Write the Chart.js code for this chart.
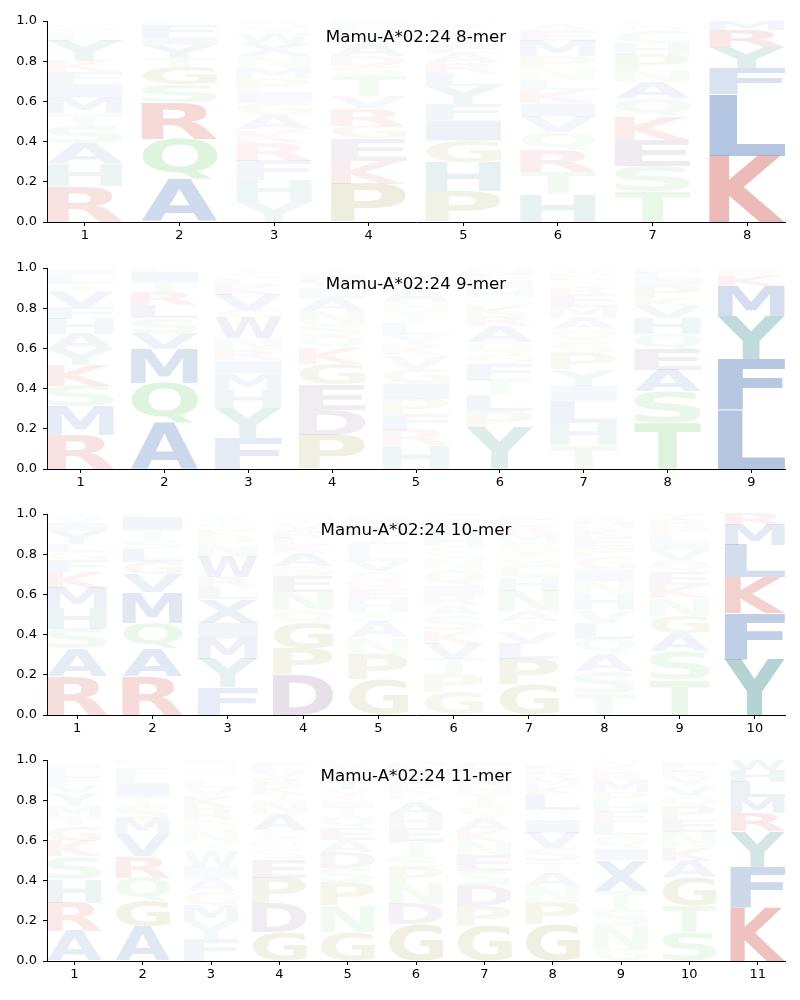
<!DOCTYPE html>
<html><head><meta charset="utf-8">
<script src="https://cdn.jsdelivr.net/npm/chart.js@4.4.1/dist/chart.umd.min.js"></script>
<style>
html,body{margin:0;padding:0;background:#fff;width:800px;height:1000px;overflow:hidden}
.p{position:absolute;left:0;width:800px;height:246px}
</style></head><body>
<div class="p" style="top:0px"><canvas id="c0"></canvas></div>
<div class="p" style="top:247px"><canvas id="c1"></canvas></div>
<div class="p" style="top:493px"><canvas id="c2"></canvas></div>
<div class="p" style="top:739px"><canvas id="c3"></canvas></div>
<script>
const titles = ["Mamu-A*02:24 8-mer", "Mamu-A*02:24 9-mer", "Mamu-A*02:24 10-mer", "Mamu-A*02:24 11-mer"];
const yTickValues = [0, 0.2, 0.4, 0.6, 0.8, 1.0];

// letters stacked bottom -> top, one string per position
const mer8Letters = ["RHASTMIFKYLVGQ","AQRSGTYIFL","YHFRKAGIPMNXWVS","PKEGRVTSDANQLI","PHGIFYLRAEKSTV","HTRQVIKLNPMEAS","TSEKQANPHCDG","KLFYRM"];
const mer8Heights = [
  [.18,.11,.10,.09,.06,.08,.065,.06,.055,.10,.04,.02,.02,.015],
  [.215,.2,.18,.09,.085,.045,.065,.04,.06,.02],
  [.1,.11,.095,.09,.065,.07,.06,.06,.065,.05,.06,.065,.05,.03,.03],
  [.19,.115,.11,.065,.085,.06,.1,.05,.05,.065,.03,.03,.025,.025],
  [.155,.14,.11,.1,.08,.09,.065,.05,.05,.04,.03,.03,.03,.02],
  [.14,.11,.11,.09,.075,.065,.065,.05,.06,.06,.075,.05,.03,.02],
  [.155,.125,.13,.115,.09,.08,.06,.075,.06,.06,.025,.025],
  [.33,.305,.13,.105,.085,.045]
];
const mer9Letters = ["RMSKYAHFVTLI","AQMVSLRTIF","FYHMIRNWGVKLST","PDEGKQSNALVIRT","HRFPIGVKYLTNASEQ","YPLTFGQARKSHMEN","THLIYPSQAMERNKV","TSAEQHVKPILM","LFYMKRI"];
const mer9Heights = [
  [.17,.14,.105,.1,.08,.075,.075,.06,.08,.04,.04,.03],
  [.23,.2,.165,.08,.075,.065,.065,.05,.05,.02],
  [.155,.15,.09,.08,.065,.05,.06,.1,.04,.075,.05,.03,.03,.025],
  [.17,.125,.125,.1,.08,.06,.06,.065,.065,.05,.035,.03,.02,.015],
  [.12,.075,.08,.075,.075,.075,.065,.05,.05,.06,.06,.05,.07,.04,.03,.025],
  [.21,.08,.08,.075,.075,.05,.06,.08,.05,.05,.04,.04,.04,.035,.035],
  [.12,.11,.11,.075,.08,.075,.06,.065,.06,.05,.065,.04,.03,.03,.03],
  [.23,.155,.11,.1,.075,.08,.06,.04,.065,.03,.03,.025],
  [.295,.25,.215,.15,.05,.025,.015]
];
const mer10Letters = ["RASHMKFGLYIVT","RAQMVGLSTIF","FYMIXLRWNPKSTV","DPGQNESAKLRVTI","GPNASHERQVLFTKID","GPTVKSARIQNCHELDF","GPLVTANHCQSMREK","TSAQLVHNIGPEKMRF","TSAGNKEQVILPRY","YFKLMR"];
const mer10Heights = [
  [.19,.14,.1,.1,.1,.08,.06,.04,.04,.065,.04,.03,.015],
  [.19,.14,.13,.15,.09,.06,.065,.04,.06,.06,.015],
  [.14,.14,.1,.08,.115,.06,.05,.1,.06,.04,.03,.03,.025,.025],
  [.2,.13,.125,.065,.09,.08,.05,.065,.04,.035,.04,.03,.025,.02],
  [.175,.125,.085,.075,.05,.065,.05,.04,.05,.05,.05,.04,.05,.04,.03,.02],
  [.115,.09,.075,.075,.065,.075,.05,.05,.05,.075,.06,.06,.05,.04,.03,.02,.02],
  [.15,.13,.075,.06,.05,.05,.1,.065,.07,.05,.06,.04,.04,.03,.02],
  [.11,.11,.085,.075,.08,.06,.08,.065,.06,.06,.05,.05,.04,.03,.03,.015],
  [.175,.14,.09,.09,.085,.065,.065,.06,.05,.04,.04,.04,.03,.03],
  [.28,.225,.18,.16,.1,.055]
];
const mer11Letters = ["ARHSKGTMYVFLIN","AGQRVMSTILFYK","FYMGAIWSNPRKVLTHQE","GDPESQCANTKRVLI","GNPSDAEQTIKVYHRL","GDNPSTEHAQKRVLM","GPDSENKAQTHRVLI","GPNATSVIQLKMREF","GNSTXIQLEHPMRKV","STGAKNEPQVYRLI","KFYRMLHW"];
const mer11Heights = [
  [.15,.14,.115,.115,.075,.075,.05,.05,.065,.04,.04,.04,.03,.01],
  [.17,.13,.115,.105,.11,.075,.065,.05,.06,.04,.04,.02,.02],
  [.11,.09,.08,.065,.065,.06,.075,.04,.065,.05,.06,.06,.04,.04,.03,.02,.03,.02],
  [.145,.14,.13,.09,.05,.05,.045,.08,.065,.035,.04,.04,.03,.03,.02],
  [.145,.13,.115,.075,.075,.06,.06,.065,.04,.03,.03,.03,.06,.03,.03,.02],
  [.185,.1,.1,.075,.06,.075,.065,.065,.065,.04,.04,.04,.03,.03,.02],
  [.175,.1,.1,.075,.075,.065,.06,.06,.06,.06,.04,.04,.03,.03,.02],
  [.185,.11,.075,.065,.06,.065,.075,.065,.05,.08,.04,.03,.03,.03,.02],
  [.06,.115,.085,.09,.15,.06,.065,.06,.055,.05,.05,.06,.04,.03,.03],
  [.145,.13,.14,.085,.065,.075,.065,.065,.05,.05,.04,.03,.03,.02],
  [.27,.2,.175,.09,.08,.075,.06,.05]
];
const mer8Positions = ["1","2","3","4","5","6","7","8"];
const mer9Positions = ["1","2","3","4","5","6","7","8","9"];
const mer10Positions = ["1","2","3","4","5","6","7","8","9","10"];
const mer11Positions = ["1","2","3","4","5","6","7","8","9","10","11"];

const panels = [
  [mer8Letters, mer8Heights, mer8Positions],
  [mer9Letters, mer9Heights, mer9Positions],
  [mer10Letters, mer10Heights, mer10Positions],
  [mer11Letters, mer11Heights, mer11Positions]
];

const BASE = {
  red: [200,60,50], blue: [40,90,170], teal: [40,130,130],
  green: [100,200,100], olive: [145,140,40], purple: [120,70,130]
};
const GROUP = {R:'red',K:'red',A:'blue',L:'blue',F:'blue',M:'blue',V:'blue',I:'blue',W:'blue',X:'blue',
  Y:'teal',H:'teal',Q:'green',N:'green',S:'green',T:'green',C:'green',G:'olive',P:'olive',D:'purple',E:'purple'};
function columnInfo(hs) {
  const tot = hs.reduce((a, b) => a + b, 0);
  let ent = 0;
  hs.forEach(h => { const p = h / tot; if (p > 0) ent -= p * Math.log2(p); });
  return Math.max(0, Math.log2(20) - ent);
}
function letterColor(ch, h, info) {
  const c = BASE[GROUP[ch] || 'blue'];
  const a = Math.min(0.35, h * (0.45 + 0.45 * info));
  return `rgba(${c[0]},${c[1]},${c[2]},${a.toFixed(3)})`;
}

const logoPlugin = {
  id: 'logo',
  afterDatasetsDraw(chart) {
    const ctx = chart.ctx;
    chart.data.datasets.forEach((ds, di) => {
      const meta = chart.getDatasetMeta(di);
      meta.data.forEach((el, i) => {
        const ch = ds.letters[i];
        if (!ch) return;
        const p = el.getProps(['x','y','base','width'], true);
        const top = Math.min(p.y, p.base), h = Math.abs(p.base - p.y);
        if (h < 0.3) return;
        ctx.save();
        ctx.font = 'bold 100px "DejaVu Sans"';
        ctx.textAlign = 'left';
        ctx.textBaseline = 'alphabetic';
        const m = ctx.measureText(ch);
        const gw = m.actualBoundingBoxLeft + m.actualBoundingBoxRight;
        const gh = m.actualBoundingBoxAscent + m.actualBoundingBoxDescent;
        ctx.translate(p.x - p.width / 2, top);
        ctx.scale(p.width / gw, h / gh);
        ctx.fillStyle = ds.colors[i];
        ctx.fillText(ch, m.actualBoundingBoxLeft, m.actualBoundingBoxAscent);
        ctx.restore();
      });
    });
    const a = chart.chartArea;
    ctx.save();
    ctx.font = '16.7px "DejaVu Sans"';
    ctx.fillStyle = '#000';
    ctx.textAlign = 'center';
    ctx.textBaseline = 'alphabetic';
    ctx.fillText(chart.options.plugins.logoTitle, (a.left + a.right) / 2, a.top + 20.5);
    ctx.restore();
  }
};

panels.forEach(([letters, heights, labels], pi) => {
  const n = letters.length;
  const maxL = Math.max(...letters.map(s => s.length));
  const infos = heights.map(columnInfo);
  const datasets = [];
  for (let k = 0; k < maxL; k++) {
    datasets.push({
      data: letters.map((s, i) => ({x: i + 1, y: heights[i][k] || 0})),
      letters: letters.map(s => s[k] || ''),
      colors: letters.map((s, i) => s[k] ? letterColor(s[k], heights[i][k], infos[i]) : 'rgba(0,0,0,0)'),
      backgroundColor: 'rgba(0,0,0,0)',
      borderWidth: 0,
      barPercentage: 0.8,
      categoryPercentage: 1.0
    });
  }
  const tickVals = labels.map((l, i) => i + 1);
  new Chart(document.getElementById('c' + pi), {
    type: 'bar',
    data: { datasets },
    plugins: [logoPlugin],
    options: {
      responsive: true, maintainAspectRatio: false, animation: false,
      layout: { padding: { top: 21, right: 15, left: 0, bottom: 0 } },
      plugins: { legend: { display: false }, tooltip: { enabled: false }, logoTitle: titles[pi] },
      scales: {
        x: {
          type: 'linear', stacked: true, offset: false, min: 0.6, max: n + 0.4,
          afterBuildTicks: s => { s.ticks = tickVals.map(v => ({ value: v })); },
          afterFit: s => { s.height = 24; },
          grid: { display: true, drawOnChartArea: false, drawTicks: true, tickLength: 4, color: '#000', offset: false },
          border: { display: true, color: '#000', width: 1 },
          ticks: { color: '#000', font: { family: 'DejaVu Sans', size: 13 }, padding: 2, maxRotation: 0, autoSkip: false,
            callback: (v, i) => labels[i] }
        },
        y: {
          stacked: true, min: 0, max: 1,
          afterBuildTicks: s => { s.ticks = yTickValues.map(v => ({ value: v })); },
          afterFit: s => { s.width = 47; },
          grid: { display: true, drawOnChartArea: false, drawTicks: true, tickLength: 4, color: '#000' },
          border: { display: true, color: '#000', width: 1 },
          ticks: { color: '#000', font: { family: 'DejaVu Sans', size: 13 }, padding: 6,
            callback: (v, i) => yTickValues[i].toFixed(1) }
        }
      }
    }
  });
});
</script>
</body></html>
